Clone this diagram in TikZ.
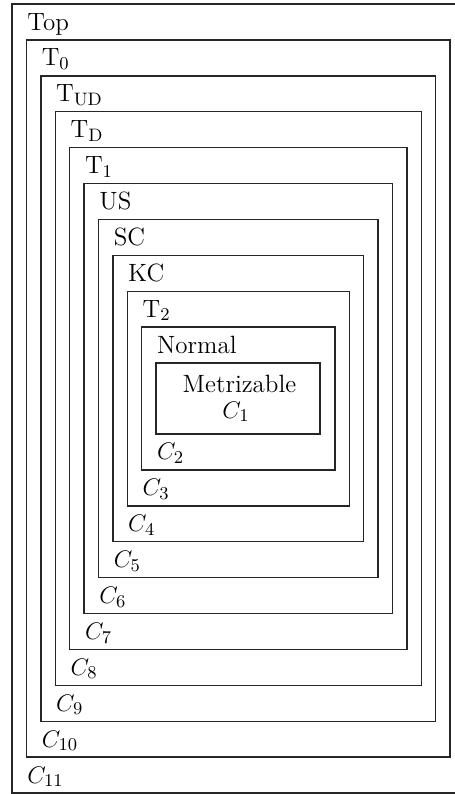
\documentclass[tikz,border=0pt]{standalone}
\begin{document}
\begin{tikzpicture}[x=0.5pt,y=-0.5pt,
  box/.style={draw=black!85, line width=0.7pt, inner sep=0pt, outer sep=0pt},
  lab/.style={inner sep=0pt, font=\fontsize{12.5}{15}\selectfont}]
\useasboundingbox (0,0) rectangle (455,794);
\clip (0,0) rectangle (455,794);
% nested classes, outermost first
\foreach \k/\tl/\bl in {0/Top/C_{11},
                         1/T$_0$/C_{10},
                         2/T$_{\mathrm{UD}}$/C_9,
                         3/T$_{\mathrm{D}}$/C_8,
                         4/T$_1$/C_7,
                         5/US/C_6,
                         6/SC/C_5,
                         7/KC/C_4,
                         8/T$_2$/C_3,
                         9/Normal/C_2}{
  \pgfmathsetmacro\w{0.5*(452.4-28.8*\k)}
  \pgfmathsetmacro\h{0.5*(789-71.8*\k)}
  \node[box, minimum width=\w pt, minimum height=\h pt] (r\k) at (238.2,398.5) {};
  \node[lab, anchor=base west] (t\k) at ([xshift=7.5pt, yshift=-13pt]r\k.north west) {\tl};
  \node[lab, anchor=base west] (b\k) at ([xshift=7.5pt, yshift=5pt]r\k.south west) {$\bl$};
}
% innermost class
\node[box, minimum width=82pt, minimum height=35.5pt] (r10) at (238,398.5) {};
\node[lab, anchor=base] (t10) at (239.5,392) {Metrizable};
\node[lab, anchor=base] (b10) at (236,418) {$C_1$};
\end{tikzpicture}
\end{document}
